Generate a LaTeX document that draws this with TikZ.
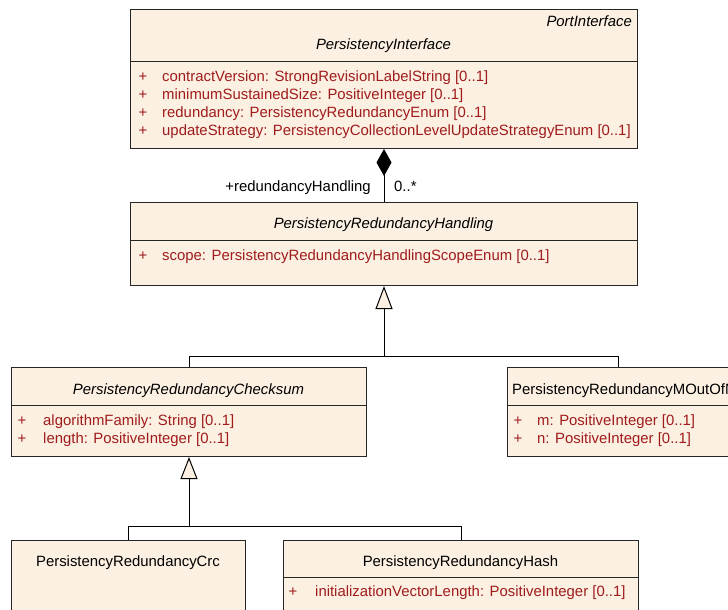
\documentclass[tikz,border=0pt]{standalone}
\usepackage{fontspec}
\setmainfont{Liberation Sans}
\usetikzlibrary{arrows.meta}
\definecolor{boxfill}{RGB}{251,240,226}
\definecolor{attrred}{RGB}{160,28,28}
\begin{document}
\begin{tikzpicture}[x=1pt,y=-1pt,
  cls/.style={draw=black!85, fill=boxfill, line width=1pt, rectangle, inner sep=0pt, anchor=north west},
  txt/.style={inner sep=0pt, text height=10.6pt, text depth=0pt, font=\fontsize{14.9}{17}\selectfont},
  ttl/.style={txt},
  ittl/.style={txt, font=\fontsize{14.9}{17}\selectfont\itshape},
  plus/.style={txt, text=attrred},
  attrtxt/.style={txt, text=attrred, anchor=west},
  divider/.style={draw=black!85, line width=1pt},
  conn/.style={draw=black, line width=1pt}
]
\path[use as bounding box] (0,0) rectangle (728,610);
\clip (0,0) rectangle (728,610);

% ---- PersistencyInterface
\node[cls, minimum width=507pt, minimum height=139pt] (iface) at (130,9) {};
\draw[divider] (130,62) -- (637,62);
\node[ittl, anchor=east] (ifstereo) at (632,21) {PortInterface};
\node[ittl] (iftitle) at (383.5,44) {PersistencyInterface};
\node[plus] (ifp1) at (143,76) {+};
\node[attrtxt] (ifa1) at (162,76) {contractVersion: StrongRevisionLabelString [0..1]};
\node[plus] (ifp2) at (143,94) {+};
\node[attrtxt] (ifa2) at (162,94) {minimumSustainedSize: PositiveInteger [0..1]};
\node[plus] (ifp3) at (143,112) {+};
\node[attrtxt] (ifa3) at (162,112) {redundancy: PersistencyRedundancyEnum [0..1]};
\node[plus] (ifp4) at (143,130.5) {+};
\node[attrtxt] (ifa4) at (162,130.5) {updateStrategy: PersistencyCollectionLevelUpdateStrategyEnum [0..1]};

% ---- PersistencyRedundancyHandling
\node[cls, minimum width=507pt, minimum height=83pt] (handling) at (130,202) {};
\draw[divider] (130,240) -- (637,240);
\node[ittl] (hdtitle) at (383.5,223) {PersistencyRedundancyHandling};
\node[plus] (hdp1) at (143,255) {+};
\node[attrtxt] (hda1) at (162,255) {scope: PersistencyRedundancyHandlingScopeEnum [0..1]};

% ---- PersistencyRedundancyChecksum
\node[cls, minimum width=355pt, minimum height=89pt] (checksum) at (11,367) {};
\draw[divider] (11,405) -- (366,405);
\node[ittl] (cstitle) at (188.5,389) {PersistencyRedundancyChecksum};
\node[plus] (csp1) at (22,420) {+};
\node[attrtxt] (csa1) at (43,420) {algorithmFamily: String [0..1]};
\node[plus] (csp2) at (22,438) {+};
\node[attrtxt] (csa2) at (43,438) {length: PositiveInteger [0..1]};

% ---- PersistencyRedundancyMOutOfN (cut off at the right edge, as in the source)
\node[cls, minimum width=222pt, minimum height=89pt] (mofn) at (507,367) {};
\draw[divider] (507,405) -- (729,405);
\node[ttl, anchor=west] (mntitle) at (512,389) {PersistencyRedundancyMOutOfN};
\node[plus] (mnp1) at (518,420) {+};
\node[attrtxt] (mna1) at (537,420) {m: PositiveInteger [0..1]};
\node[plus] (mnp2) at (518,438) {+};
\node[attrtxt] (mna2) at (537,438) {n: PositiveInteger [0..1]};

% ---- PersistencyRedundancyCrc
\node[cls, minimum width=234pt, minimum height=90pt] (crc) at (11,540) {};
\node[ttl] (crctitle) at (128,561) {PersistencyRedundancyCrc};

% ---- PersistencyRedundancyHash
\node[cls, minimum width=355pt, minimum height=90pt] (hash) at (283,540) {};
\draw[divider] (283,577) -- (638,577);
\node[ttl] (hstitle) at (460.5,561) {PersistencyRedundancyHash};
\node[plus] (hsp1) at (293,591) {+};
\node[attrtxt] (hsa1) at (315,591) {initializationVectorLength: PositiveInteger [0..1]};

% ---- composition
\draw[conn, {Diamond[length=27pt,width=15pt,fill=black]}-] (iface.south) -- (handling.north);
\node[txt, anchor=east] (rolelbl) at (371,186) {+redundancyHandling};
\node[txt, anchor=west] (multlbl) at (394,186) {0..*};

% ---- generalizations
\coordinate (bus1) at (handling.south |- 0,356);
\coordinate (bus2) at (checksum.south |- 0,526);
\draw[conn] (mofn.north) -- (mofn.north |- bus1) -- (bus1);
\draw[conn, -{Triangle[length=23pt,width=17pt,fill=boxfill]}] (checksum.north) -- (checksum.north |- bus1) -- (bus1) -- (handling.south);
\draw[conn] (hash.north) -- (hash.north |- bus2) -- (bus2);
\draw[conn, -{Triangle[length=22pt,width=17pt,fill=boxfill]}] (crc.north) -- (crc.north |- bus2) -- (bus2) -- (checksum.south);
\end{tikzpicture}
\end{document}
